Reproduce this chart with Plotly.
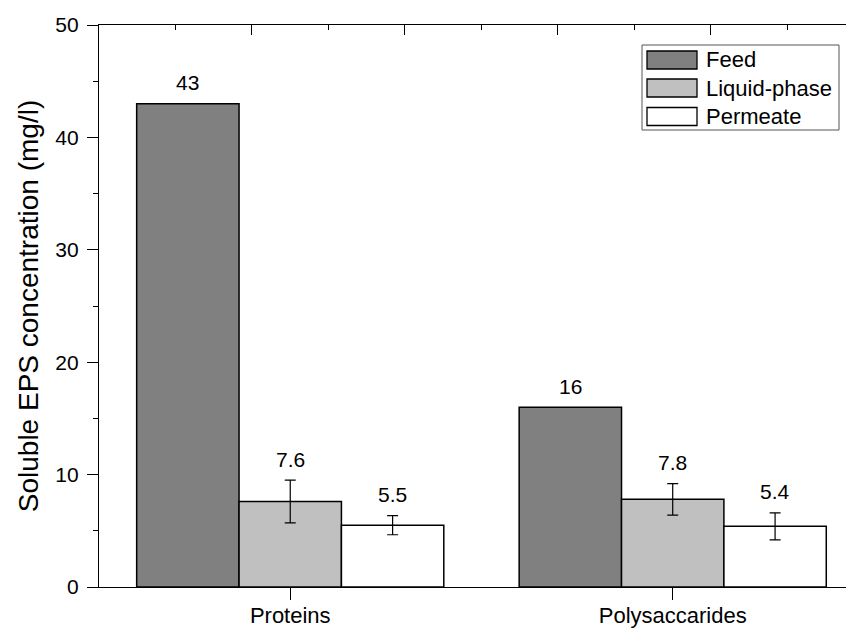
import plotly.graph_objects as go

categories = ["Proteins", "Polysaccarides"]
series_names = ["Feed", "Liquid-phase", "Permeate"]
feed = [43, 16]
liquid = [7.6, 7.8]
permeate = [5.5, 5.4]
liquid_err = [1.9, 1.4]
permeate_err = [0.85, 1.2]
labels_feed = ["43", "16"]
labels_liquid = ["7.6", "7.8"]
labels_perm = ["5.5", "5.4"]
y_ticks = [0, 10, 20, 30, 40, 50]

colors = ["#808080", "#c0c0c0", "#ffffff"]
FONT = "Liberation Sans, Arial, sans-serif"

OFF = 8  # page body margin
W, H = 854 - OFF, 629 - OFF
# screen-space plot box: left 99, top 25, bottom 587.3, right 854
L, T = 99 - OFF, 25 - OFF
B = H - (587 - OFF)
R = 0
PW, PH = W - L - R, H - T - B

def px_x(px):
    return (px - OFF - L) / PW

def px_y(py):
    return (H - B - (py - OFF)) / PH

fig = go.Figure()
err_style = dict(type="data", color="black", thickness=1.2, width=5.5)
fig.add_trace(go.Bar(name=series_names[0], x=categories, y=feed,
                     marker=dict(color=colors[0], line=dict(color="black", width=1.5)),
                     showlegend=False))
fig.add_trace(go.Bar(name=series_names[1], x=categories, y=liquid,
                     error_y=dict(array=liquid_err, **err_style),
                     marker=dict(color=colors[1], line=dict(color="black", width=1.5)),
                     showlegend=False))
fig.add_trace(go.Bar(name=series_names[2], x=categories, y=permeate,
                     error_y=dict(array=permeate_err, **err_style),
                     marker=dict(color=colors[2], line=dict(color="black", width=1.5)),
                     showlegend=False))

# value labels
group_w = 0.803
bar_w = group_w / 3
annotations = []
for si, (vals, errs, labs) in enumerate([(feed, [0, 0], labels_feed),
                                          (liquid, liquid_err, labels_liquid),
                                          (permeate, permeate_err, labels_perm)]):
    for ci in range(len(categories)):
        xpos = ci - group_w / 2 + bar_w * (si + 0.5)
        annotations.append(dict(x=xpos, y=vals[ci] + errs[ci], xref="x", yref="y",
                                text=labs[ci], showarrow=False, yanchor="middle",
                                yshift=21, font=dict(family=FONT, size=21, color="black")))

# manual legend
shapes = []
shapes.append(dict(type="rect", xref="paper", yref="paper",
                   x0=px_x(642), x1=px_x(839), y0=px_y(130), y1=px_y(45),
                   line=dict(color="#555555", width=1), fillcolor="white", layer="above"))
rows = [60, 88, 116.5]
for i, name in enumerate(series_names):
    cy = rows[i]
    shapes.append(dict(type="rect", xref="paper", yref="paper",
                       x0=px_x(647), x1=px_x(697), y0=px_y(cy + 9), y1=px_y(cy - 9),
                       line=dict(color="black", width=1.3), fillcolor=colors[i], layer="above"))
    annotations.append(dict(x=px_x(704), y=px_y(cy), xref="paper", yref="paper",
                            text=name, showarrow=False, xanchor="left", yanchor="middle",
                            font=dict(family=FONT, size=22, color="black")))

fig.update_layout(
    width=W, height=H,
    margin=dict(l=L, r=R, t=T, b=B, pad=0, autoexpand=False),
    paper_bgcolor="white", plot_bgcolor="white",
    barmode="group", bargap=1 - group_w, bargroupgap=0,
    font=dict(family=FONT, color="black"),
    shapes=shapes, annotations=annotations,
    showlegend=False,
    xaxis=dict(range=[-0.5, 1.474], showline=True, linecolor="black", linewidth=1.3,
               ticks="outside", ticklen=12, tickwidth=1.3, tickcolor="black",
               tickfont=dict(family=FONT, size=22, color="black"), automargin=False,
               ticklabelstandoff=-4,
               showgrid=False, zeroline=False),
    xaxis2=dict(overlaying="x", side="top", range=[-0.5, 1.474], showline=True,
                linecolor="black", linewidth=1.3, ticks="inside", ticklen=10,
                tickwidth=1.3, tickcolor="black", tickmode="linear", tick0=-0.5, dtick=0.4,
                showticklabels=False, showgrid=False, zeroline=False, automargin=False,
                minor=dict(ticks="inside", ticklen=5, tickwidth=1.3, tickcolor="black",
                           dtick=0.2, tick0=-0.5, showgrid=False)),
    yaxis=dict(range=[0, 50], tickvals=y_ticks, showline=True, linecolor="black", linewidth=1.3,
               ticks="outside", ticklen=11, tickwidth=1.3, tickcolor="black",
               tickfont=dict(family=FONT, size=21, color="black"), automargin=False,
               ticklabelstandoff=4,
               minor=dict(ticks="outside", ticklen=5, tickwidth=1.3, tickcolor="black",
                          dtick=5, showgrid=False),
               showgrid=False, zeroline=False,
               title=dict(text="Soluble EPS concentration (mg/l)",
                          font=dict(family=FONT, size=28, color="black"), standoff=8)),
)
# invisible trace so the top axis is drawn
fig.add_trace(go.Scatter(x=[-0.5], y=[0], xaxis="x2", mode="markers",
                         marker=dict(opacity=0), showlegend=False, hoverinfo="skip"))

fig.write_html("out.html")
